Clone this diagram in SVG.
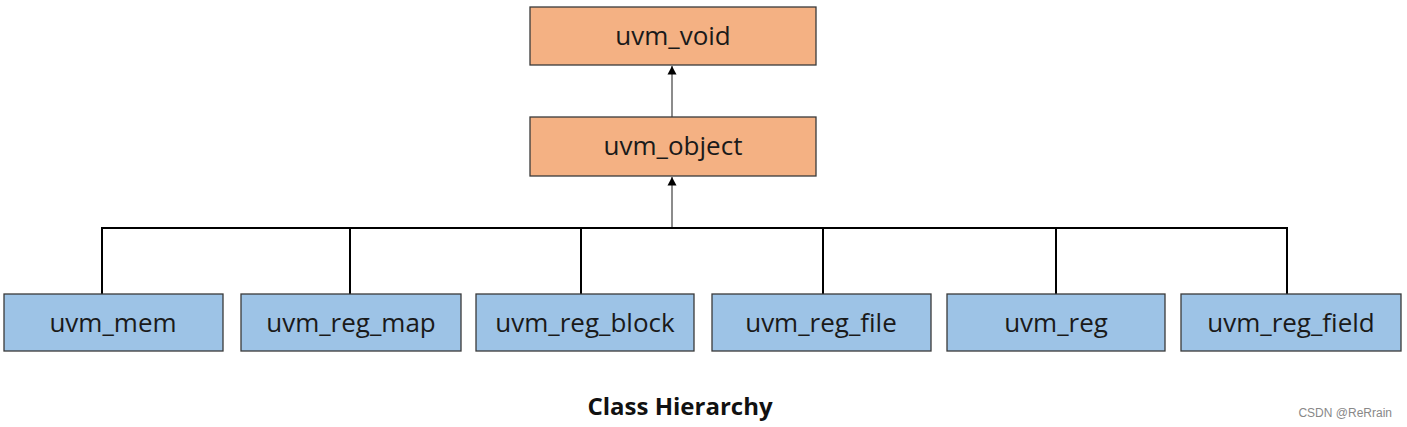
<svg xmlns="http://www.w3.org/2000/svg" width="1407" height="427" viewBox="0 0 1407 427">
<style>
.box{stroke:#3a3a3a;stroke-width:1.3}
.or{fill:#F4B183}
.bl{fill:#9DC3E6}
.t{font-family:"Open Sans","Liberation Sans",sans-serif;font-size:26px;fill:#1a1a1a;text-anchor:middle}
.ln{stroke:#000;stroke-width:2;fill:none}
.ar{stroke:#666;stroke-width:1.5;fill:none}
</style>
<defs>
<marker id="ah" markerWidth="10" markerHeight="10" refX="9" refY="5" orient="auto" markerUnits="userSpaceOnUse" viewBox="0 0 10 10">
<path d="M0.5,0.5 L9,5 L0.5,9.5 Z" fill="#000"/>
</marker>
</defs>
<rect width="1407" height="427" fill="#fff"/>
<g id="connectors">
<line class="ar" x1="672" y1="117" x2="672" y2="66" marker-end="url(#ah)"/>
<line class="ar" x1="672" y1="228" x2="672" y2="177" marker-end="url(#ah)"/>
<path class="ln" d="M102,294 V228 H1287 V294 M350,228 V294 M581,228 V294 M823,228 V294 M1056,228 V294"/>
</g>
<g id="uvm_void"><rect class="box or" x="530" y="7" width="286" height="58"/><text class="t" x="673" y="45">uvm_void</text></g>
<g id="uvm_object"><rect class="box or" x="530" y="117" width="286" height="59"/><text class="t" x="673" y="155">uvm_object</text></g>
<g id="uvm_mem"><rect class="box bl" x="4" y="294" width="219" height="57"/><text class="t" x="113" y="332">uvm_mem</text></g>
<g id="uvm_reg_map"><rect class="box bl" x="241" y="294" width="220" height="57"/><text class="t" x="351" y="332">uvm_reg_map</text></g>
<g id="uvm_reg_block"><rect class="box bl" x="476" y="294" width="218" height="57"/><text class="t" x="585" y="332">uvm_reg_block</text></g>
<g id="uvm_reg_file"><rect class="box bl" x="712" y="294" width="219" height="57"/><text class="t" x="821" y="332">uvm_reg_file</text></g>
<g id="uvm_reg"><rect class="box bl" x="947" y="294" width="218" height="57"/><text class="t" x="1056" y="332">uvm_reg</text></g>
<g id="uvm_reg_field"><rect class="box bl" x="1181" y="294" width="220" height="57"/><text class="t" x="1291" y="332">uvm_reg_field</text></g>
<text x="680" y="415" font-family="'Open Sans','Liberation Sans',sans-serif" font-weight="bold" font-size="24" text-anchor="middle" fill="#111">Class Hierarchy</text>
<text x="1392" y="417" font-family="'Liberation Sans',sans-serif" font-size="12" text-anchor="end" fill="#888">CSDN @ReRrain</text>
</svg>
